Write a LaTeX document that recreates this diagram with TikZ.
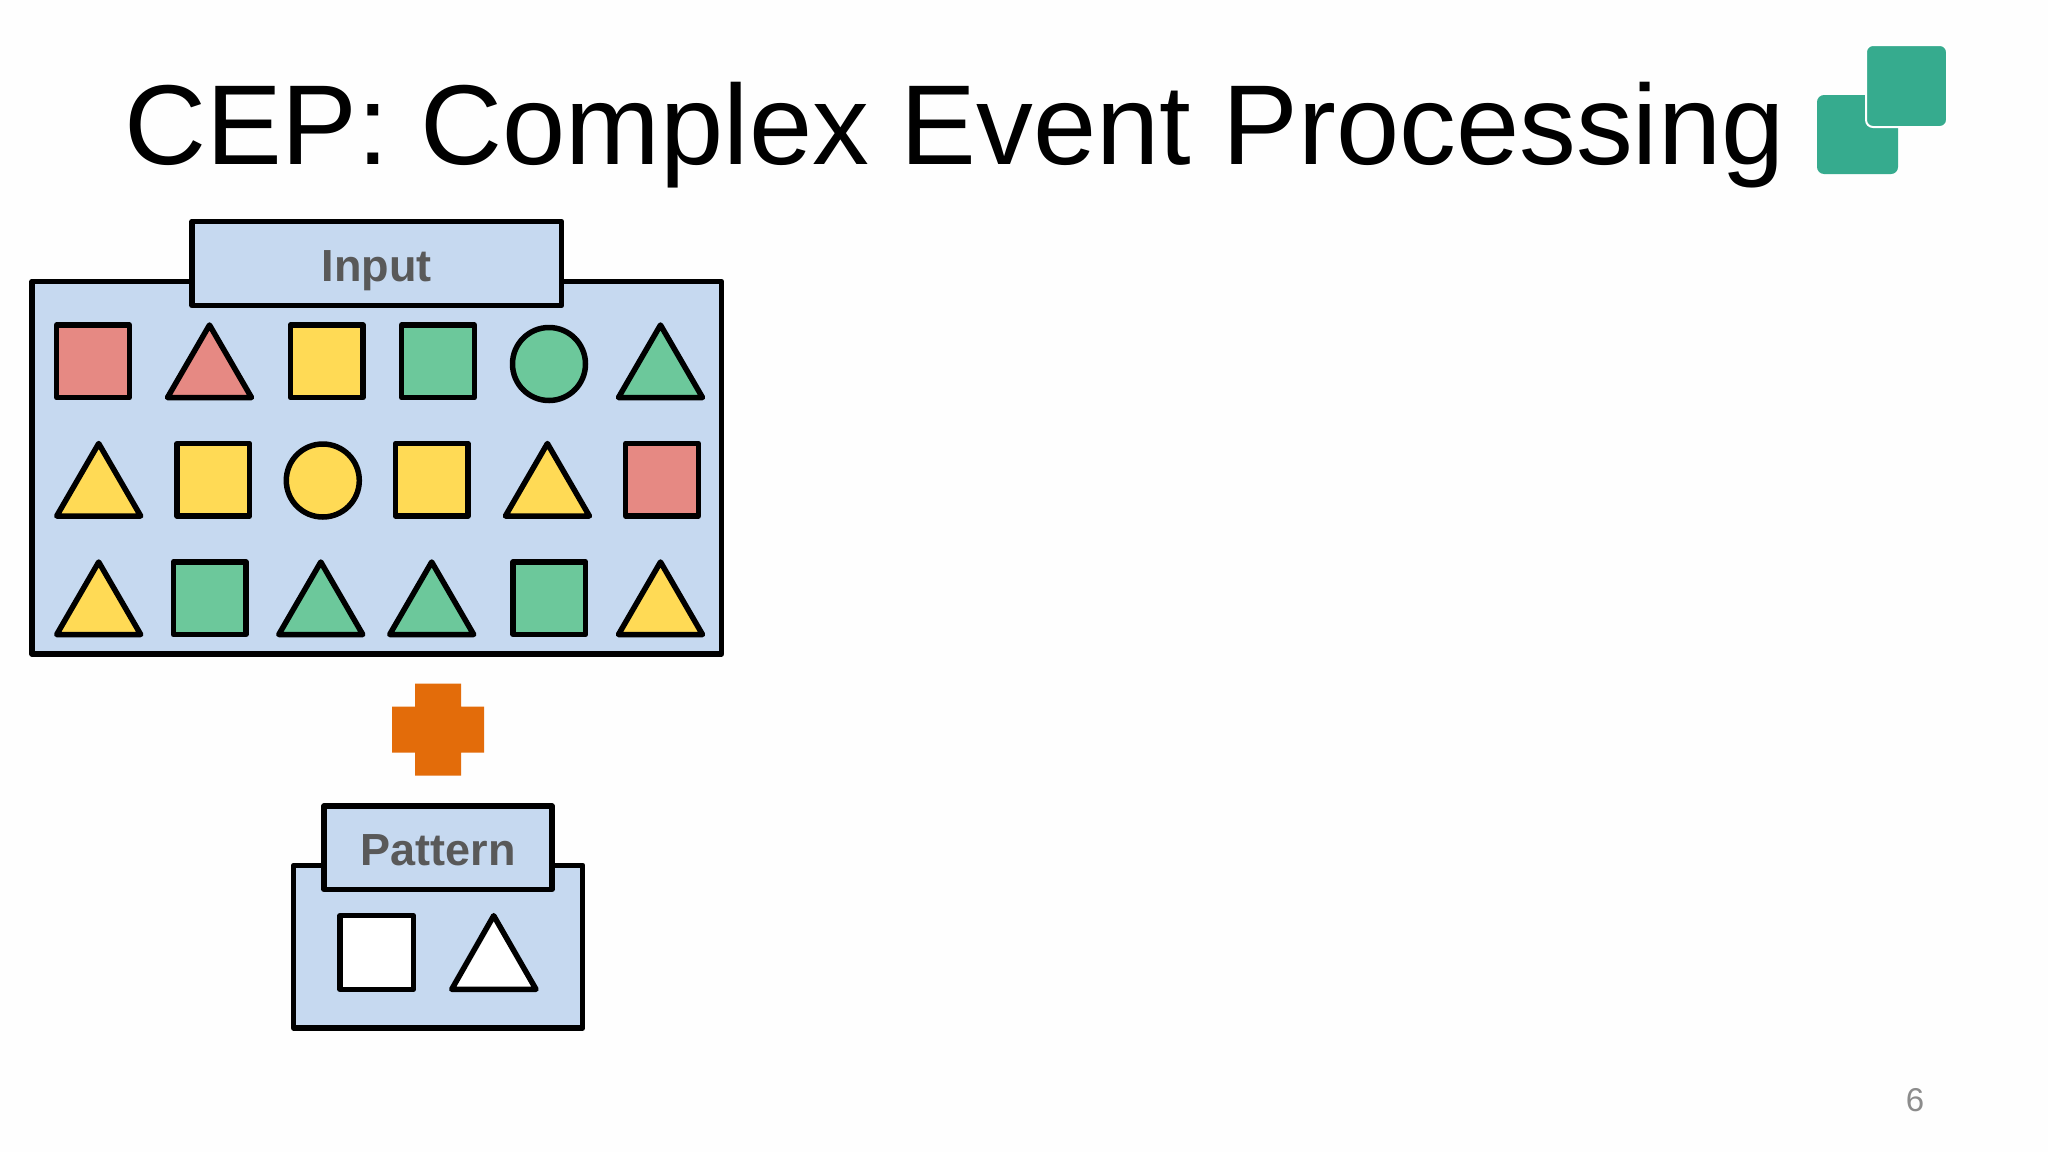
\documentclass[tikz,border=0pt]{standalone}
\usepackage{fontspec}
\setmainfont{Liberation Sans}
\definecolor{panelblue}{HTML}{C6D9F0}
\definecolor{shapered}{HTML}{E68983}
\definecolor{shapeyellow}{HTML}{FFDA55}
\definecolor{shapegreen}{HTML}{6CC89B}
\definecolor{labelgray}{HTML}{595959}
\definecolor{plusorange}{HTML}{E36C0A}
\definecolor{logogreen}{HTML}{36AB8E}
\definecolor{pagegray}{HTML}{8C8C8C}
\definecolor{pagewhite}{HTML}{FEFEFE}
\tikzset{
  outline/.style={draw=black,line width=5.5pt,line join=round},
  panel/.style={outline,fill=panelblue},
  boxlabel/.style={text=labelgray,font=\fontsize{45}{45}\selectfont\bfseries,anchor=base},
}
% #1 centre x, #2 row top, #3 colour
\newcommand{\sqshape}[3]{\draw[outline,fill=#3] (#1-36.3,#2) rectangle (#1+36.3,#2+72.5);}
\newcommand{\trishape}[3]{\draw[outline,fill=#3] (#1,#2) -- (#1+42,#2+72.5) -- (#1-42,#2+72.5) -- cycle;}
\newcommand{\circshape}[3]{\draw[outline,fill=#3] (#1,#2+37) circle[radius=36.5];}
\begin{document}
\begin{tikzpicture}[x=1pt,y=-1pt]
\useasboundingbox (0,0) rectangle (2048,1152);
\fill[pagewhite] (0,0) rectangle (2048,1152);
\node[anchor=base west,inner sep=0pt,font=\fontsize{113.6}{114}\selectfont] (title) at (124,164) {CEP: Complex Event Processing};
% logo
\fill[logogreen,rounded corners=7pt] (1817,95) rectangle (1898,174);
\fill[logogreen,draw=white,line width=2pt,rounded corners=7pt] (1866,45) rectangle (1947,127);
% input panel
\draw[panel] (32,281.5) rectangle (721.5,654);
\draw[panel] (192,221.5) rectangle (561.5,305.5);
\node[boxlabel] (inputlabel) at (376.5,281) {Input};
% row 1
\sqshape{93}{325}{shapered}
\trishape{209.5}{325}{shapered}
\sqshape{326.7}{325}{shapeyellow}
\sqshape{438}{325}{shapegreen}
\circshape{549}{327}{shapegreen}
\trishape{660.5}{325}{shapegreen}
% row 2
\trishape{98.7}{443.5}{shapeyellow}
\sqshape{213.4}{443.5}{shapeyellow}
\circshape{322.8}{443.5}{shapeyellow}
\sqshape{431.7}{443.5}{shapeyellow}
\trishape{547.4}{443.5}{shapeyellow}
\sqshape{662}{443.5}{shapered}
% row 3
\trishape{98.7}{562}{shapeyellow}
\sqshape{209.6}{562}{shapegreen}
\trishape{320.8}{562}{shapegreen}
\trishape{431.7}{562}{shapegreen}
\sqshape{549.4}{562}{shapegreen}
\trishape{660.5}{562}{shapeyellow}
% plus
\fill[plusorange] (415,683.5) -- (461,683.5) -- (461,706.5) -- (484,706.5) -- (484,752.5) -- (461,752.5) -- (461,775.5) -- (415,775.5) -- (415,752.5) -- (392,752.5) -- (392,706.5) -- (415,706.5) -- cycle;
% pattern panel
\draw[panel] (293.7,865.3) rectangle (582.7,1028);
\draw[panel] (324,806) rectangle (552,889.3);
\node[boxlabel] (patternlabel) at (438,865) {Pattern};
\draw[outline,fill=white] (340,915.7) rectangle (413.3,989.3);
\draw[outline,fill=white] (493.7,915.7) -- (536,989.3) -- (451.7,989.3) -- cycle;
% page number
\node[anchor=base,inner sep=0pt,text=pagegray,font=\fontsize{33}{33}\selectfont] (pagenum) at (1915,1111) {6};
\end{tikzpicture}
\end{document}
